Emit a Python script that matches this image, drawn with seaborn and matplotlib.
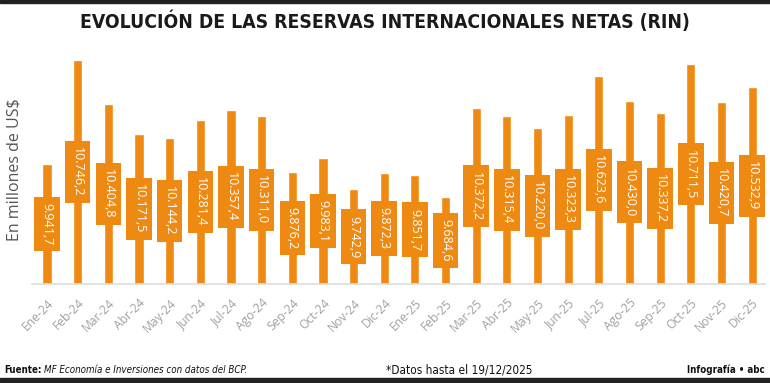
import os
import matplotlib
matplotlib.use("Agg")
import matplotlib.pyplot as plt
from matplotlib import font_manager as fm
from matplotlib.patches import Rectangle
import seaborn as sns
import pandas as pd

months = ["Ene-24", "Feb-24", "Mar-24", "Abr-24", "May-24", "Jun-24",
          "Jul-24", "Ago-24", "Sep-24", "Oct-24", "Nov-24", "Dic-24",
          "Ene-25", "Feb-25", "Mar-25", "Abr-25", "May-25", "Jun-25",
          "Jul-25", "Ago-25", "Sep-25", "Oct-25", "Nov-25", "Dic-25"]
values = [9941.7, 10746.2, 10404.8, 10171.5, 10144.2, 10281.4,
          10357.4, 10311.0, 9876.2, 9983.1, 9742.9, 9872.3,
          9851.7, 9684.6, 10372.2, 10315.4, 10220.0, 10323.3,
          10623.6, 10430.0, 10337.2, 10711.5, 10420.7, 10532.9]

orange = "#EE8A12"
ymin, ymax = 9010, 10800

sns.set_style("white")
plt.rcParams["font.family"] = ["Open Sans", "DejaVu Sans"]


def condensed(bold=False, italic=False, size=10):
    # look for a narrow / condensed face among the installed fonts
    for f in fm.fontManager.ttflist:
        key = f.name + " " + os.path.basename(f.fname)
        if "Narrow" not in key and "Condensed" not in key:
            continue
        if any(k in key for k in ("Extra", "Semi", "Ultra")):
            continue
        w = f.weight if isinstance(f.weight, int) else (700 if f.weight == "bold" else 400)
        if bold != (w >= 600) or italic != (f.style in ("italic", "oblique")):
            continue
        return fm.FontProperties(fname=f.fname, size=size)
    return fm.FontProperties(family=["DejaVu Sans"], size=size,
                             weight="bold" if bold else "normal",
                             style="italic" if italic else "normal")


df = pd.DataFrame({"mes": months, "rin": values})

fig = plt.figure(figsize=(7.7, 3.83), dpi=100)
ax = fig.add_axes([32 / 770, 99 / 383, 733 / 770, 231 / 383])

sns.barplot(data=df, x="mes", y="rin", color=orange, saturation=1,
            width=0.3, ax=ax)
ax.set_ylim(ymin, ymax)
ax.set_xlim(-0.49, 23.42)


def fmt(v):
    s = f"{v:,.1f}"
    return s.replace(",", "X").replace(".", ",").replace("X", ".")


for i, v in enumerate(values):
    ax.text(i, (ymin + v) / 2, fmt(v), rotation=-90, ha="center", va="center",
            color="white", fontsize=9,
            bbox=dict(boxstyle="square,pad=0.5", fc=orange, ec="none"))

for s in ["top", "right", "left"]:
    ax.spines[s].set_visible(False)
ax.spines["bottom"].set_color("#dddddd")
ax.spines["bottom"].set_linewidth(1.2)
ax.set_yticks([])
ax.set_xlabel("")
ax.set_ylabel("")
ax.tick_params(axis="x", length=0, pad=9)
ax.set_xticks(range(len(months)))
ax.set_xticklabels(months, rotation=45, ha="right", rotation_mode="anchor",
                   fontsize=8.7, color="#a0a0a0")

fig.text(15 / 770, 1 - 170 / 383, "En millones de US$", rotation=90,
         ha="center", va="center", fontsize=11.5, color="#555555")

renderer = fig.canvas.get_renderer()

title_fp = condensed(bold=True, size=17)
title = fig.text(0.5, 1 - 21 / 383,
                 "EVOLUCIÓN DE LAS RESERVAS INTERNACIONALES NETAS (RIN)",
                 ha="center", va="center", fontproperties=title_fp,
                 color="#1a1a1a")
# stretch the title to the width it has in the original
w = title.get_window_extent(renderer).width
title_fp.set_size(17 * 608 / w)
title.set_fontproperties(title_fp)

foot_y = 1 - 370 / 383
t1 = fig.text(4 / 770, foot_y, "Fuente:", ha="left", va="center",
              fontproperties=condensed(bold=True, size=7), color="#111111")
x1 = t1.get_window_extent(renderer).x1 + 3
fig.text(x1 / 770, foot_y, "MF Economía e Inversiones con datos del BCP.",
         ha="left", va="center", fontproperties=condensed(italic=True, size=7),
         color="#111111")
fig.text(386 / 770, foot_y, "*Datos hasta el 19/12/2025", ha="left",
         va="center", fontproperties=condensed(size=8.5), color="#111111")
fig.text(765 / 770, foot_y, "Infografía • abc", ha="right", va="center",
         fontproperties=condensed(bold=True, size=7), color="#111111")

fig.add_artist(Rectangle((0, 1 - 3 / 383), 1, 3 / 383, transform=fig.transFigure,
                         color="#222222"))
fig.add_artist(Rectangle((0, 0), 1, 5 / 383, transform=fig.transFigure,
                         color="#222222"))

fig.savefig("out.png", dpi=100)
